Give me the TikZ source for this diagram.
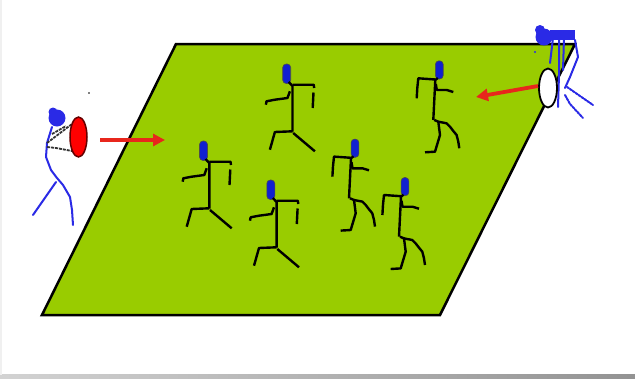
\documentclass[tikz,border=0pt]{standalone}
\usetikzlibrary{arrows.meta,shapes.geometric}
\definecolor{fieldgreen}{HTML}{99CC00}
\definecolor{headblue}{HTML}{1020D0}
\definecolor{throwblue}{HTML}{2A2AE6}
\definecolor{arrowred}{HTML}{E8261C}
\tikzset{
  limb/.style={line width=2.4pt, black, line join=round},
  bluelimb/.style={line width=2pt, throwblue, line join=round, line cap=round},
  headbox/.style={fill=headblue, draw=black!70, line width=0.6pt, rounded corners=3.5pt},
  throw/.style={line width=3.8pt, arrowred, -{Triangle[length=12pt, width=12pt]}},
  % runner leaning forward, arms held high
  runnerA/.pic={
    \draw[headbox] (-4,-10) rectangle (4,9.5);
    \draw[limb] (2,8) -- (5.8,12) -- (5.8,57.5);
    \draw[limb] (5.8,10.7) -- (27,10.7) -- (27.5,14);
    \draw[limb] (26.8,18.5) -- (26,34);
    \draw[limb] (3.2,17.3) -- (0.8,24) -- (-11.8,25.7) -- (-20.2,27.3) -- (-20.8,30.7);
    \draw[limb] (5.8,57.3) -- (-11.8,58) -- (-16.8,75.7);
    \draw[limb] (6.5,59) -- (28.2,77.3);
  },
  % runner with long stride, bent knee
  runnerB/.pic={
    \draw[headbox] (-3.9,-9.2) rectangle (3.9,9);
    \draw[limb] (-1.5,8) -- (-4,10) -- (-5,30) -- (-6,50);
    \draw[limb] (-4,9.5) -- (-21,8.3) -- (-22,18) -- (-22.6,28.3);
    \draw[limb] (-3.5,14) -- (-2.5,20) -- (7.4,20) -- (14,22);
    \draw[limb] (-5,50) -- (-1,51.7) -- (0.7,65) -- (-4.3,81.7) -- (-14.3,82.3);
    \draw[limb] (-1,51.7) -- (7.3,53.3) -- (10.7,56.7) -- (14,61) -- (17.3,65) -- (19,71.7) -- (20,78.3);
  }
}
\begin{document}
\begin{tikzpicture}[x=1pt,y=-1pt]
\useasboundingbox (0,0) rectangle (635,378);
\fill[white] (0,0) rectangle (635,378);
% frame edges
\shade[left color=gray!35, right color=gray!85] (0,374.5) rectangle (635,378);
\fill[gray!12] (0,0) rectangle (2,374.5);

% playing field
\coordinate (f1) at (176,44);
\coordinate (f2) at (575,44);
\coordinate (f3) at (440,315);
\coordinate (f4) at (42,315);
\draw[fill=fieldgreen, line width=2.5pt, line join=miter] (f1) -- (f2) -- (f3) -- (f4) -- cycle;

% runners on the field
\pic at (203.5,151) {runnerA};
\pic at (270.8,190) {runnerA};
\pic at (286.7,74) {runnerA};
\pic at (355,148.3) {runnerB};
\pic at (405,186.7) {runnerB};
\pic at (439.3,70) {runnerB};

% left thrower
\fill[throwblue] (57,118) circle (8.5);
\fill[throwblue] (53,112) circle (4.5);
\draw[bluelimb] (52,127) -- (47,143) -- (46,157) -- (51,170) -- (57,178) -- (63,185) -- (70,197) -- (72,210) -- (73,225);
\draw[bluelimb] (56,182) -- (33,215);
\draw[line width=1.8pt, black!80, dash pattern=on 3pt off 1pt] (47,143) -- (72,124);
\draw[line width=1.8pt, black!80, dash pattern=on 3pt off 1pt] (52,134) -- (66,126);
\draw[line width=1.8pt, black!80, dash pattern=on 3pt off 1pt] (47,147) -- (56,148) -- (72,151);
\node[ellipse, minimum width=17pt, minimum height=40pt, inner sep=0pt, fill=red, draw=black!60!red, line width=1.5pt] (redball) at (78.5,137) {};
\fill (89,93) circle (0.9);

% right thrower
\fill[throwblue] (544,37) circle (8.5);
\fill[throwblue] (540,30) circle (5);
\fill[throwblue] (550,30) rectangle (575,40);
\draw[bluelimb] (553,38) -- (550,63);
\draw[bluelimb] (559,38) -- (559,75) -- (558,107);
\draw[bluelimb] (564,38) -- (563,70);
\draw[bluelimb] (575,40) -- (578,57) -- (570,77) -- (565,88);
\draw[bluelimb, dash pattern=on 2.5pt off 1pt] (567,87) -- (593,105);
\draw[bluelimb, dash pattern=on 2.5pt off 1pt] (565,95) -- (570,104) -- (583,118);
\node[ellipse, minimum width=18pt, minimum height=39pt, inner sep=0pt, fill=white, draw=black, line width=1.8pt] (whiteball) at (548,88) {};
\fill[throwblue] (535,52) circle (1.2);

% throwing directions
\coordinate (la) at (100,140);
\coordinate (lb) at (165,140);
\coordinate (ra) at (538,86);
\coordinate (rb) at (476,97);
\draw[throw] (la) -- (lb);
\draw[throw] (ra) -- (rb);
\end{tikzpicture}
\end{document}
